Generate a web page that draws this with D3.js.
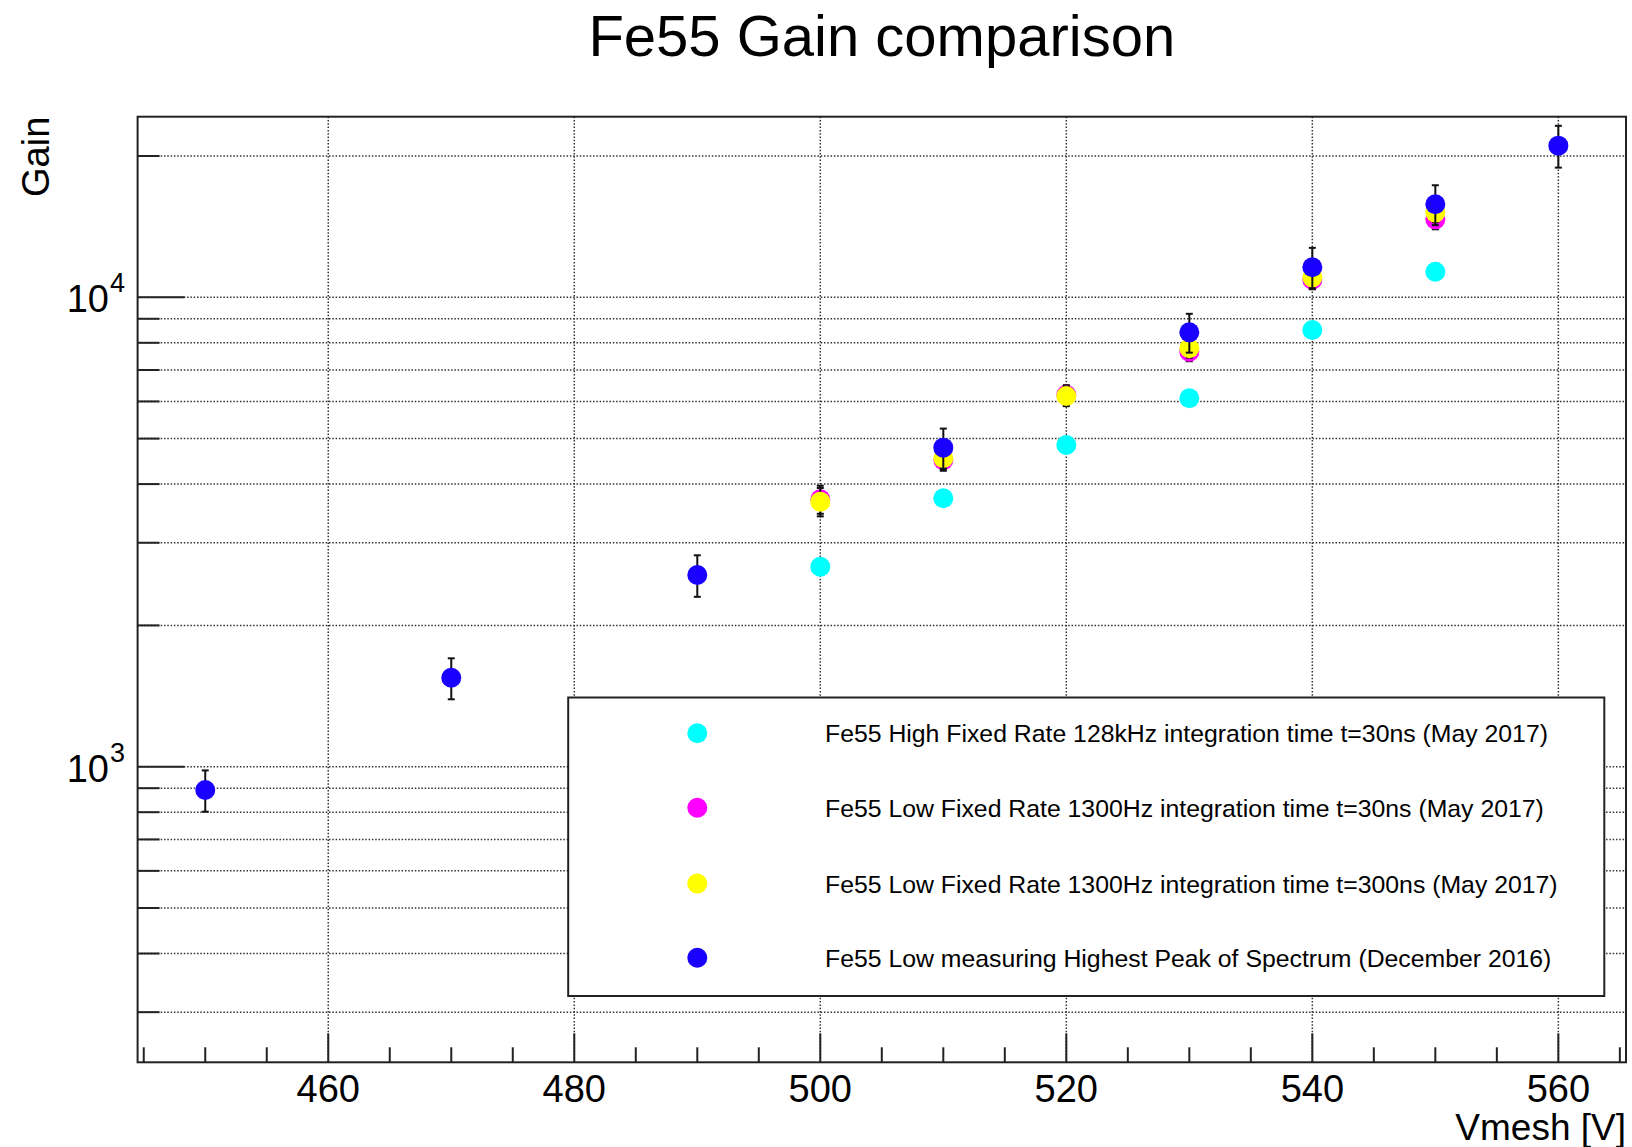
<!DOCTYPE html>
<html><head><meta charset="utf-8">
<script src="https://cdn.jsdelivr.net/npm/d3@7"></script>
<style>
body{margin:0;background:#fff}
svg{display:block}
text{font-family:"Liberation Sans",Arial,Helvetica,sans-serif;fill:#000}
</style>
</head><body>
<svg id="chart" width="1632" height="1147"></svg>
<script>
// ---------- data ----------
const chartTitle = "Fe55 Gain comparison";
const xTitle = "Vmesh [V]";
const yTitle = "Gain";

const seriesNames = [
  "Fe55 High Fixed Rate 128kHz integration time t=30ns (May 2017)",
  "Fe55 Low Fixed Rate 1300Hz integration time t=30ns (May 2017)",
  "Fe55 Low Fixed Rate 1300Hz integration time t=300ns (May 2017)",
  "Fe55 Low measuring Highest Peak of Spectrum (December 2016)"
];
const seriesColors = ["#00ffff", "#ff00ff", "#ffff00", "#1a00ff"];

const vmeshMay2017 = [500, 510, 520, 530, 540, 550];
const gainHighRate30ns = [2667, 3731, 4846, 6093, 8518, 11336];
const errHighRate30ns = [0, 0, 0, 0, 0, 0];
const gainLowRate30ns = [3713, 4500, 6200, 7658, 10900, 14660];
const errLowRate30ns = [255, 230, 300, 350, 500, 700];
const gainLowRate300ns = [3670, 4540, 6163, 7787, 11030, 15150];
const errLowRate300ns = [255, 230, 300, 350, 500, 700];

const vmeshDec2016 = [450, 470, 490, 510, 530, 540, 550, 560];
const gainHighestPeak = [892, 1547, 2561, 4782, 8422, 11585, 15785, 21040];
const errHighestPeak = [90, 155, 260, 470, 800, 1160, 1540, 2150];

const xDomain = [444.5, 565.5];
const yDomain = [234.6, 24250];
const xMajorTicks = [460, 480, 500, 520, 540, 560];
const xMinorTicks = [445, 450, 455, 465, 470, 475, 485, 490, 495, 505, 510, 515, 525, 530, 535, 545, 550, 555, 565];
const yLabelTicks = [1000, 10000];
const yLabelExp = ["3", "4"];
const yMinorTicks = [300, 400, 500, 600, 700, 800, 900, 2000, 3000, 4000, 5000, 6000, 7000, 8000, 9000, 20000];

// ---------- layout ----------
const W = 1632, H = 1147;
const F = {left: 137.6, right: 1626, top: 116.7, bottom: 1062.3};
const svg = d3.select("#chart");
svg.append("rect").attr("width", W).attr("height", H).attr("fill", "#fff");

const x = d3.scaleLinear().domain(xDomain).range([F.left, F.right]);
const y = d3.scaleLog().domain(yDomain).range([F.bottom, F.top]);

// gridlines
const grid = svg.append("g").attr("stroke", "#333").attr("stroke-width", 1.5).attr("stroke-dasharray", "1.5,1.8");
xMajorTicks.forEach(v => grid.append("line").attr("x1", x(v)).attr("x2", x(v)).attr("y1", F.top).attr("y2", F.bottom));
yLabelTicks.concat(yMinorTicks).forEach(v => grid.append("line").attr("x1", F.left).attr("x2", F.right).attr("y1", y(v)).attr("y2", y(v)));

// series
const series = [
  {xs: vmeshMay2017, ys: gainHighRate30ns, es: errHighRate30ns},
  {xs: vmeshMay2017, ys: gainLowRate30ns, es: errLowRate30ns},
  {xs: vmeshMay2017, ys: gainLowRate300ns, es: errLowRate300ns},
  {xs: vmeshDec2016, ys: gainHighestPeak, es: errHighestPeak}
];
const R = 10;
series.forEach((s, i) => {
  const g = svg.append("g");
  const pts = s.xs.map((xv, k) => ({x: xv, y: s.ys[k], e: s.es[k]}));
  const eb = g.append("g").attr("stroke", "#111").attr("stroke-width", 2);
  pts.filter(d => d.e > 0).forEach(d => {
    const cx = x(d.x), yt = y(d.y + d.e), yb = y(d.y - d.e);
    eb.append("line").attr("x1", cx).attr("x2", cx).attr("y1", yt).attr("y2", yb);
    eb.append("line").attr("x1", cx - 3.5).attr("x2", cx + 3.5).attr("y1", yt).attr("y2", yt);
    eb.append("line").attr("x1", cx - 3.5).attr("x2", cx + 3.5).attr("y1", yb).attr("y2", yb);
  });
  g.selectAll("circle").data(pts).join("circle")
    .attr("cx", d => x(d.x)).attr("cy", d => y(d.y)).attr("r", R)
    .attr("fill", seriesColors[i]);
});

// frame
svg.append("rect").attr("x", F.left).attr("y", F.top)
  .attr("width", F.right - F.left).attr("height", F.bottom - F.top)
  .attr("fill", "none").attr("stroke", "#222").attr("stroke-width", 2);

// x axis ticks
const xa = svg.append("g").attr("stroke", "#222").attr("stroke-width", 2);
xMajorTicks.forEach(v => xa.append("line").attr("x1", x(v)).attr("x2", x(v)).attr("y1", F.bottom).attr("y2", F.bottom - 29));
xMinorTicks.forEach(v => xa.append("line").attr("x1", x(v)).attr("x2", x(v)).attr("y1", F.bottom).attr("y2", F.bottom - 15));
svg.append("g").selectAll("text").data(xMajorTicks).join("text")
  .attr("x", d => x(d)).attr("y", 1102).attr("text-anchor", "middle")
  .attr("font-size", 38).text(d => d);

// y axis ticks
const ya = svg.append("g").attr("stroke", "#222").attr("stroke-width", 2);
yLabelTicks.forEach(v => ya.append("line").attr("x1", F.left).attr("x2", F.left + 47).attr("y1", y(v)).attr("y2", y(v)));
yMinorTicks.forEach(v => ya.append("line").attr("x1", F.left).attr("x2", F.left + 22).attr("y1", y(v)).attr("y2", y(v)));
yLabelTicks.forEach((v, i) => {
  svg.append("text").attr("font-size", 38).attr("x", 109).attr("y", y(v) + 15).attr("text-anchor", "end").text("10");
  svg.append("text").attr("font-size", 27).attr("x", 110).attr("y", y(v) - 5).attr("text-anchor", "start").text(yLabelExp[i]);
});

// titles
svg.append("text").attr("x", (F.left + F.right) / 2).attr("y", 56).attr("text-anchor", "middle")
  .attr("font-size", 58).text(chartTitle);
svg.append("text").attr("x", F.right).attr("y", 1140).attr("text-anchor", "end")
  .attr("font-size", 37).text(xTitle);
svg.append("text").attr("transform", `translate(49,${F.top}) rotate(-90)`).attr("text-anchor", "end")
  .attr("font-size", 38).text(yTitle);

// legend
const L = {x0: 568.2, x1: 1604.3, y0: 697.5, y1: 996};
const lg = svg.append("g");
lg.append("rect").attr("x", L.x0).attr("y", L.y0).attr("width", L.x1 - L.x0).attr("height", L.y1 - L.y0)
  .attr("fill", "#fff").attr("stroke", "#222").attr("stroke-width", 2);
const rowY = [733.3, 807.7, 883.6, 957.8];
seriesNames.forEach((name, i) => {
  lg.append("circle").attr("cx", 697.3).attr("cy", rowY[i]).attr("r", R).attr("fill", seriesColors[i]);
  lg.append("text").attr("x", 825).attr("y", rowY[i] + 9).attr("font-size", 24.8).text(name);
});
</script>
</body></html>
